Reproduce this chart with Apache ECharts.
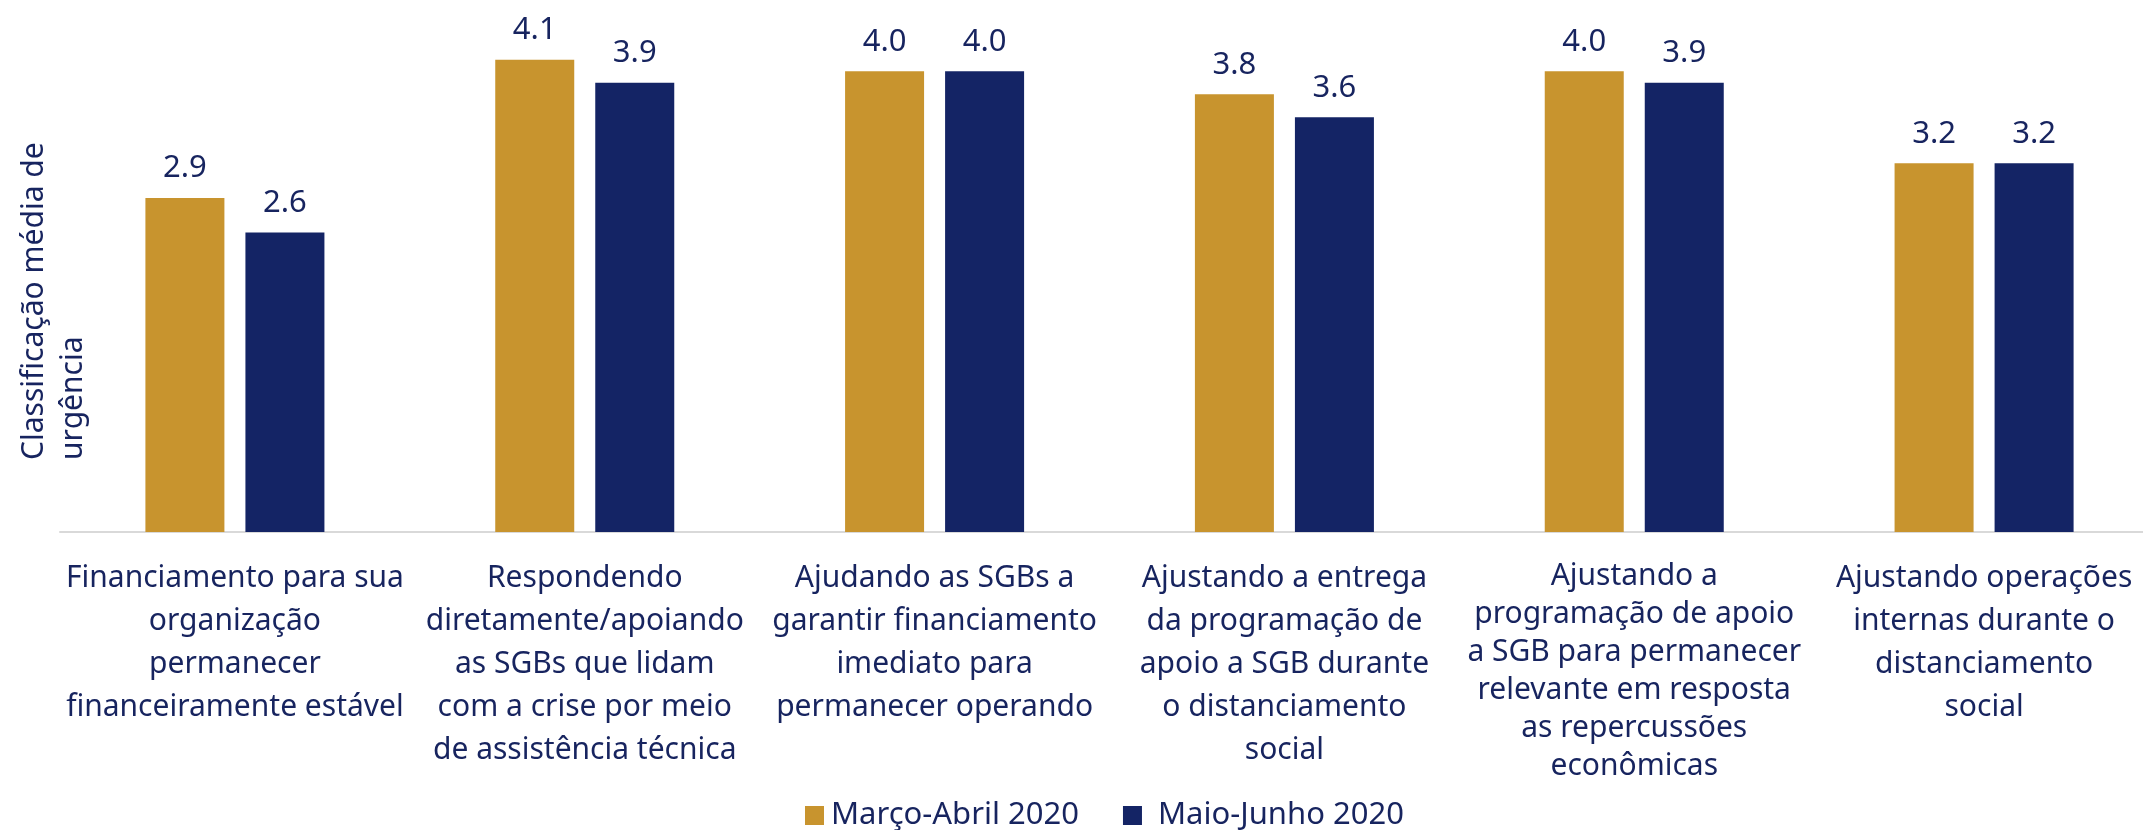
<!DOCTYPE html>
<html>
<head>
<meta charset="utf-8">
<script src="https://cdn.jsdelivr.net/npm/echarts@6/dist/echarts.min.js"></script>
<style>
  html, body { margin: 0; padding: 0; background: #fff; }
  #chart { width: 2143px; height: 830px; }
</style>
</head>
<body>
<div id="chart"></div>
<script>
  // categorias (quebras de linha como no original)
  const categories = [
    'Financiamento para sua\norganização\npermanecer\nfinanceiramente estável',
    'Respondendo\ndiretamente/apoiando\nas SGBs que lidam\ncom a crise por meio\nde assistência técnica',
    'Ajudando as SGBs a\ngarantir financiamento\nimediato para\npermanecer operando',
    'Ajustando a entrega\nda programação de\napoio a SGB durante\no distanciamento\nsocial',
    'Ajustando a\nprogramação de apoio\na SGB para permanecer\nrelevante em resposta\nas repercussões\neconômicas',
    'Ajustando operações\ninternas durante o\ndistanciamento\nsocial'
  ];
  const seriesNames = ['Março-Abril 2020', 'Maio-Junho 2020'];
  const marcoAbril = [2.9, 4.1, 4.0, 3.8, 4.0, 3.2];
  const maioJunho = [2.6, 3.9, 4.0, 3.6, 3.9, 3.2];
  const yTitle = 'Classificação média de\nurgência';

  const GOLD = '#C8942E';
  const NAVY = '#142465';
  const TEXT = '#17245F';
  const FONT = '"Noto Sans", "Open Sans", sans-serif';

  const chart = echarts.init(document.getElementById('chart'));

  function barSeries(name, data, color) {
    return {
      name: name,
      type: 'bar',
      data: data,
      barWidth: 79,
      barGap: '26.6%',
      itemStyle: { color: color },
      label: {
        show: true,
        position: 'top',
        distance: 14,
        color: TEXT,
        fontFamily: FONT,
        fontSize: 31,
        formatter: p => p.value.toFixed(1)
      }
    };
  }

  chart.setOption({
    animation: false,
    textStyle: { fontFamily: FONT },
    grid: { left: 60, width: 2099, top: 13.6, bottom: 298, outerBoundsMode: 'none' },
    legend: {
      data: [
        { name: seriesNames[0], textStyle: { padding: [0, 0, 0, 2] } },
        { name: seriesNames[1], textStyle: { padding: [0, 0, 0, 11] } }
      ],
      left: 800,
      top: 795,
      itemWidth: 19,
      itemHeight: 19,
      itemGap: 44,
      icon: 'rect',
      textStyle: { color: TEXT, fontSize: 31, fontFamily: FONT }
    },
    xAxis: {
      type: 'category',
      data: categories,
      axisLine: { lineStyle: { color: '#D9D9D9', width: 2 } },
      axisTick: { show: false },
      axisLabel: {
        interval: 0,
        margin: 25,
        color: TEXT,
        fontSize: 30,
        lineHeight: 43,
        fontFamily: FONT,
        align: 'center',
        // o rótulo de seis linhas tem espaçamento menor
        formatter: (v, i) => v.split('\n').length > 5
          ? v.split('\n').map(l => '{t|' + l + '}').join('\n')
          : v,
        rich: {
          t: { color: TEXT, fontSize: 30, fontFamily: FONT, lineHeight: 38 }
        }
      }
    },
    yAxis: {
      type: 'value',
      min: 0,
      max: 4.5,
      axisLine: { show: false },
      axisTick: { show: false },
      axisLabel: { show: false },
      splitLine: { show: false }
    },
    graphic: [{
      type: 'text',
      x: 15,
      y: 460,
      rotation: Math.PI / 2,
      style: {
        text: yTitle,
        fill: TEXT,
        font: '30px "Noto Sans", sans-serif',
        lineHeight: 39,
        align: 'left',
        verticalAlign: 'top'
      }
    }],
    series: [
      barSeries(seriesNames[0], marcoAbril, GOLD),
      barSeries(seriesNames[1], maioJunho, NAVY)
    ]
  });

  window.addEventListener('resize', () => chart.resize());
</script>
</body>
</html>
